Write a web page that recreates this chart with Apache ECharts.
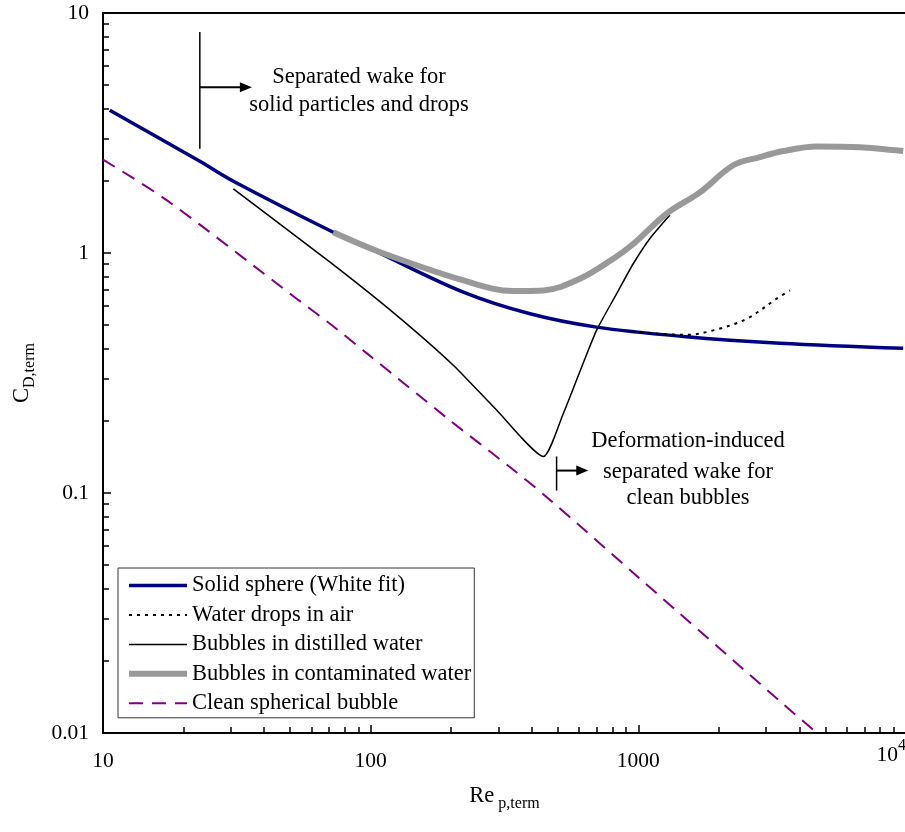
<!DOCTYPE html>
<html>
<head>
<meta charset="utf-8">
<script src="https://cdn.jsdelivr.net/npm/echarts@6/dist/echarts.min.js"></script>
<style>
  html, body { margin: 0; padding: 0; background: #fff; }
  #chart { width: 905px; height: 832px; }
</style>
</head>
<body>
<div id="chart"></div>
<script>
// Drag coefficient at terminal velocity vs particle Reynolds number

const seriesNames = [
  'Solid sphere (White fit)',
  'Water drops in air',
  'Bubbles in distilled water',
  'Bubbles in contaminated water',
  'Clean spherical bubble'
];

// Solid sphere (White fit)
const solidRe = [10.6, 23.0, 30.7, 72.5, 100, 222, 394, 698, 1472, 3381, 9760];
const solidCd = [3.93, 2.41, 1.99, 1.22, 1.04, 0.687, 0.558, 0.491, 0.449, 0.421, 0.401];

// Water drops in air
const dropRe = [946, 1515, 1905, 2539, 3286, 3684];
const dropCd = [0.471, 0.456, 0.476, 0.532, 0.645, 0.698];

// Bubbles in distilled water
const distRe = [30.7, 70.5, 125, 204, 296, 442, 524, 605, 698, 830, 957, 1105, 1312];
const distCd = [1.85, 0.916, 0.55, 0.340, 0.221, 0.142, 0.214, 0.321, 0.476, 0.677, 0.902, 1.15, 1.44];

// Bubbles in contaminated water
const contRe = [72.5, 108, 222, 341, 442, 605, 806, 957, 1276, 1699, 2262, 2846, 3478, 4634, 6727, 9760];
const contCd = [1.22, 1.01, 0.769, 0.694, 0.698, 0.781, 0.947, 1.09, 1.46, 1.79, 2.32, 2.51, 2.66, 2.78, 2.76, 2.66];

// Clean spherical bubble
const cleanRe = [10.0, 17.3, 52.9, 70.5, 97.9, 198, 332, 455, 1001, 3478, 4699];
const cleanCd = [2.45, 1.66, 0.645, 0.507, 0.378, 0.2005, 0.128, 0.0961, 0.0445, 0.0132, 0.0099];

// Axis ticks
const xTickValues = [10, 100, 1000, 10000];
const xTickText = ['10', '100', '1000', '10^4'];
const yTickValues = [0.01, 0.1, 1, 10];
const yTickText = ['0.01', '0.1', '1', '10'];

// Annotations: vertical marker at Re, spanning Cd range, arrow at Cd pointing to Re
const wakeSolid = { re: 23, cdFrom: 8.33, cdTo: 2.72, arrowCd: 4.91, arrowTo: 36 };
const wakeSolidText = ['Separated wake for', 'solid particles and drops'];
const wakeBubble = { re: 495, cdFrom: 0.142, cdTo: 0.1024, arrowCd: 0.124, arrowTo: 650 };
const wakeBubbleText = ['Deformation-induced', 'separated wake for', 'clean bubbles'];

const FONT = "'Liberation Serif', 'Times New Roman', serif";

function pairs(xs, ys) { return xs.map((x, i) => [x, ys[i]]); }

function xLabel(v) {
  const i = xTickValues.findIndex(t => Math.abs(Math.log10(t) - Math.log10(v)) < 1e-6);
  if (i < 0) return '';
  const t = xTickText[i];
  if (t.indexOf('^') >= 0) {
    const [b, e] = t.split('^');
    return '{b|' + b + '}{s|' + e + '}';
  }
  return '{n|' + t + '}';
}
function yLabel(v) {
  const i = yTickValues.findIndex(t => Math.abs(Math.log10(t) - Math.log10(v)) < 1e-6);
  return i < 0 ? '' : yTickText[i];
}

const chart = echarts.init(document.getElementById('chart'), null, { renderer: 'canvas', width: 905, height: 832 });

const axisCommon = {
  type: 'log',
  logBase: 10,
  axisLine: { show: true, lineStyle: { color: '#000', width: 2 } },
  axisTick: { show: true, inside: true, length: 8, lineStyle: { color: '#000', width: 1.5 } },
  minorTick: { show: true, splitNumber: 9, length: 6, lineStyle: { color: '#000', width: 1.5 } },
  splitLine: { show: false },
  minorSplitLine: { show: false }
};

const lineBase = {
  type: 'line',
  symbol: 'none',
  showSymbol: false,
  animation: false,
  emphasis: { disabled: true },
  clip: true
};

chart.setOption({
  backgroundColor: '#fff',
  animation: false,
  textStyle: { fontFamily: FONT, color: '#000' },
  grid: {
    left: 103, top: 13, width: 803, height: 720,
    outerBoundsMode: 'none', containLabel: false,
    show: true, borderColor: '#000', borderWidth: 2, backgroundColor: 'transparent'
  },
  xAxis: Object.assign({}, axisCommon, {
    min: 10, max: 10000,
    name: '{m|Re}{s| p,term}',
    nameLocation: 'middle',
    nameGap: 52,
    nameTextStyle: {
      rich: {
        m: { fontFamily: FONT, fontSize: 22.5, lineHeight: 24, verticalAlign: 'top', color: '#000' },
        s: { fontFamily: FONT, fontSize: 16, lineHeight: 16, padding: [11, 0, 0, 0], verticalAlign: 'top', color: '#000' }
      }
    },
    axisLabel: {
      margin: 5,
      color: '#000',
      fontFamily: FONT,
      alignMaxLabel: 'right',
      formatter: xLabel,
      rich: {
        n: { fontFamily: FONT, fontSize: 21.5, padding: [12, 0, 0, 0], color: '#000' },
        b: { fontFamily: FONT, fontSize: 21.5, verticalAlign: 'bottom', color: '#000' },
        s: { fontFamily: FONT, fontSize: 16, padding: [0, 0, 12.5, 0], verticalAlign: 'top', color: '#000' }
      }
    }
  }),
  yAxis: Object.assign({}, axisCommon, {
    min: 0.01, max: 10,
    name: '{m|C}{s|D,term}',
    nameLocation: 'middle',
    nameRotate: 90,
    nameGap: 68,
    nameTextStyle: {
      rich: {
        m: { fontFamily: FONT, fontSize: 22.5, lineHeight: 24, verticalAlign: 'top', color: '#000' },
        s: { fontFamily: FONT, fontSize: 16, lineHeight: 16, padding: [11, 0, 0, 0], verticalAlign: 'top', color: '#000' }
      }
    },
    axisLabel: { margin: 14, color: '#000', fontFamily: FONT, fontSize: 21.5, formatter: yLabel }
  }),
  legend: {
    orient: 'vertical',
    left: 118,
    top: 568,
    padding: [6, 3, 3, 8],
    itemGap: 6.45,
    itemWidth: 58,
    itemHeight: 14,
    backgroundColor: '#fff',
    borderColor: '#333',
    borderWidth: 1,
    borderRadius: 0,
    selectedMode: false,
    textStyle: { fontFamily: FONT, fontSize: 22.5, color: '#000' },
    itemStyle: { opacity: 0 },
    lineStyle: { width: 'inherit' },
    data: seriesNames
  },
  series: [
    Object.assign({}, lineBase, {
      name: seriesNames[0], data: pairs(solidRe, solidCd), smooth: 0.35, z: 2,
      itemStyle: { color: '#000080' }, lineStyle: { color: '#000080', width: 3.5 }
    }),
    Object.assign({}, lineBase, {
      name: seriesNames[1], data: pairs(dropRe, dropCd), smooth: 0.35, z: 3,
      itemStyle: { color: '#000' }, lineStyle: { color: '#000', width: 2, type: [3, 5] }
    }),
    Object.assign({}, lineBase, {
      name: seriesNames[2], data: pairs(distRe, distCd), smooth: 0.2, z: 3,
      itemStyle: { color: '#000' }, lineStyle: { color: '#000', width: 1.5 }
    }),
    Object.assign({}, lineBase, {
      name: seriesNames[3], data: pairs(contRe, contCd), smooth: 0.35, z: 4,
      itemStyle: { color: '#999' }, lineStyle: { color: '#999', width: 6 }
    }),
    Object.assign({}, lineBase, {
      name: seriesNames[4], data: pairs(cleanRe, cleanCd), smooth: 0.3, z: 3,
      itemStyle: { color: '#800080' }, lineStyle: { color: '#800080', width: 2, type: [14, 9] }
    })
  ]
});

// Annotation markers placed through the axes' own scales
function px(re, cd) { return chart.convertToPixel({ xAxisIndex: 0, yAxisIndex: 0 }, [re, cd]); }

function markerGraphics(m) {
  const top = px(m.re, m.cdFrom);
  const bot = px(m.re, m.cdTo);
  const a0 = px(m.re, m.arrowCd);
  const a1 = px(m.arrowTo, m.arrowCd);
  const headLen = 12, headHalf = 5;
  return [
    { type: 'line', shape: { x1: top[0], y1: top[1], x2: bot[0], y2: bot[1] }, style: { stroke: '#000', lineWidth: 1.5 }, z: 10 },
    { type: 'line', shape: { x1: a0[0], y1: a0[1], x2: a1[0] - headLen + 1, y2: a1[1] }, style: { stroke: '#000', lineWidth: 2 }, z: 10 },
    { type: 'polygon', shape: { points: [[a1[0], a1[1]], [a1[0] - headLen, a1[1] - headHalf], [a1[0] - headLen, a1[1] + headHalf]] }, style: { fill: '#000' }, z: 10 }
  ];
}

function textGraphics(lines, cx, ys) {
  return lines.map((t, i) => ({
    type: 'text', x: cx, y: ys[i], z: 10,
    style: { text: t, fontFamily: FONT, fontSize: 22.5, fill: '#000', align: 'center', verticalAlign: 'middle' }
  }));
}

chart.setOption({
  graphic: [].concat(
    markerGraphics(wakeSolid),
    markerGraphics(wakeBubble),
    textGraphics(wakeSolidText, 359, [77, 105]),
    textGraphics(wakeBubbleText, 688, [441, 472, 498])
  )
});
</script>
</body>
</html>
